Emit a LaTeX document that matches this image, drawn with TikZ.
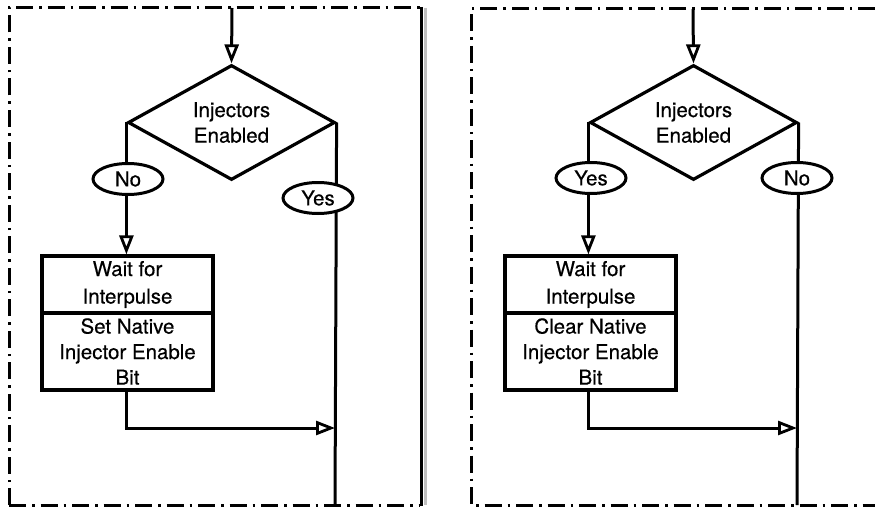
\documentclass[tikz,border=0pt]{standalone}
\usepackage{fontspec}
\setmainfont{TeX Gyre Heros}[FakeBold=0.4]
\usetikzlibrary{shapes.geometric,arrows.meta}
\pgfdeclarelayer{background}
\pgfsetlayers{background,main}

\begin{document}
\begin{tikzpicture}[x=1pt,y=-1pt,
  every node/.style={font=\fontsize{20.5}{25.5}\selectfont, inner sep=0pt},
  decision/.style={diamond, draw, line width=3.2pt, minimum width=207pt,
    minimum height=115pt, shape aspect=1.8, align=center, fill=white},
  answer/.style={ellipse, draw, fill=white, line width=3pt,
    minimum width=70pt, minimum height=31pt},
  taskbox/.style={rectangle, draw, fill=white, line width=3.2pt,
    minimum width=171pt, align=center},
  flow/.style={line width=3pt},
  flowarr/.style={flow, -{Triangle[open, length=19pt, width=14pt, line width=2.8pt, fill=white]}},
  frame/.style={line width=3pt, dash pattern=on 17pt off 6pt on 2.5pt off 6pt}
]
\useasboundingbox (0,0) rectangle (875,508);

% ---------- left panel ----------
\draw[frame] (9,505) -- (9,8) -- (420,8);
\draw[frame] (9,505) -- (420,505);
\draw[gray!50, line width=3pt] (425,8) -- (425,505);
\draw[line width=3.8pt] (421.5,7) -- (421.5,506);

\coordinate (inL) at (232,8);
\coordinate (endL) at (335,505);
\coordinate (joinL) at (335,428);

\node[decision] (decL) at (231.5,122.5) {Injectors\\Enabled};
\node[answer] (noL) at (128,179) {No};
\node[answer] (yesL) at (318,198) {Yes};
\node[taskbox, minimum height=57pt] (waitL) at (127.5,284.5) {Wait for\\[2pt]Interpulse};
\node[taskbox, minimum height=77pt] (setL) at (127.5,351.5) {Set Native\\Injector Enable\\Bit};

\begin{pgfonlayer}{background}
  \draw[flowarr] (inL) -- (decL.north);
  \draw[flowarr] (decL.west) -- (waitL.north -| decL.west);
  \draw[flow] (decL.east) -- (endL);
  \draw[flowarr] (setL.south -| decL.west) |- (joinL);
\end{pgfonlayer}

% ---------- right panel ----------
\draw[frame] (875,9) -- (471,9) -- (471,505) -- (875,505);

\coordinate (inR) at (693,9);
\coordinate (endR) at (797,505);
\coordinate (joinR) at (797,428);

\node[decision] (decR) at (693.5,122.5) {Injectors\\Enabled};
\node[answer] (yesR) at (591,178) {Yes};
\node[answer] (noR) at (797,178) {No};
\node[taskbox, minimum height=57pt] (waitR) at (590.5,284.5) {Wait for\\[2pt]Interpulse};
\node[taskbox, minimum height=77pt] (clrR) at (590.5,351.5) {Clear Native\\Injector Enable\\Bit};

\begin{pgfonlayer}{background}
  \draw[flowarr] (inR) -- (decR.north);
  \draw[flowarr] (decR.west) -- (waitR.north -| decR.west);
  \draw[flow] (decR.east) -- (endR);
  \draw[flowarr] (clrR.south -| decR.west) |- (joinR);
\end{pgfonlayer}
\end{tikzpicture}
\end{document}
